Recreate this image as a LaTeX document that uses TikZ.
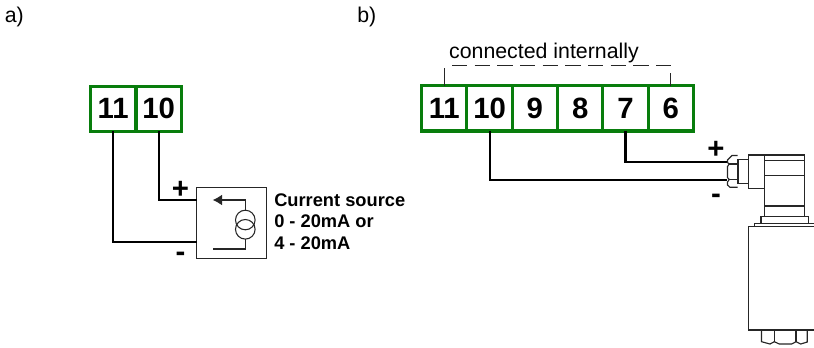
\documentclass[tikz,border=0pt]{standalone}
\usepackage{fontspec}
\setmainfont{Liberation Sans}
\usetikzlibrary{arrows.meta}
\tikzset{
  termcell/.style={draw=termgreen,line width=2.3pt,fill=white,minimum width=34.1pt,minimum height=34pt,inner sep=0pt,outer sep=0pt,font=\fontsize{22}{22}\selectfont\bfseries},
  wire/.style={draw=black,line width=1.6pt,line cap=butt,line join=miter},
  thin line/.style={draw=black!85,line width=0.8pt},
  sensor/.style={draw=black!85,line width=0.85pt,line join=miter},
  note/.style={font=\fontsize{16}{16}\selectfont,inner sep=0pt,anchor=base west},
  sign/.style={font=\fontsize{22}{22}\selectfont\bfseries,inner sep=0pt},
  srcbox/.style={draw=black!85,line width=0.8pt,fill=white,minimum width=52.5pt,minimum height=53.2pt,inner sep=0pt,outer sep=0pt},
  srctext/.style={font=\fontsize{13.7}{16}\selectfont\bfseries,align=left,inner sep=0pt,anchor=north west}
}
\definecolor{termgreen}{RGB}{8,125,12}
\begin{document}
\begin{tikzpicture}[x=0.75pt,y=-0.75pt]
\useasboundingbox (0,0) rectangle (814,347);
\node[note] (la) at (4.5,22) {a)};
\node[note] (lb) at (357,22) {b)};
% a: terminals
\node[termcell] (a11) at (113.25,108.7) {11};
\node[termcell] (a10) at (158.75,108.7) {10};
\node[srcbox] (src) at (231.7,223.2) {};
\coordinate (srcp) at (196.7,199.7);
\coordinate (srcm) at (196.7,242);
\draw[wire] (a10.south) |- (srcp);
\draw[wire] (a11.south) |- (srcm);
\node[sign] (pa) at (180.5,189.5) {+};
\node[sign] (ma) at (180.5,257) {-};
\node[srctext] (srclabel) at (274,193.5) {Current source\\0 - 20mA or\\4 - 20mA};
% source symbol
\node[draw=black!85,line width=0.8pt,circle,minimum size=14.7pt,inner sep=0pt,outer sep=0pt] (c1) at (245.3,220) {};
\node[draw=black!85,line width=0.8pt,circle,minimum size=14.7pt,inner sep=0pt,outer sep=0pt] (c2) at (245.3,229.3) {};
\coordinate (tip) at (212.7,200);
\coordinate (ret) at (212.7,249);
\draw[thin line,-{Latex[length=7pt,width=8pt]}] (c1.north) |- (tip);
\draw[thin line] (c2.south) |- (ret);
% b: terminals
\node[termcell] (b11) at (444.3,108.3) {11};
\node[termcell] (b10) at (489.6,108.3) {10};
\node[termcell] (b9) at (534.9,108.3) {9};
\node[termcell] (b8) at (580.2,108.3) {8};
\node[termcell] (b7) at (625.5,108.3) {7};
\node[termcell] (b6) at (670.8,108.3) {6};
\node[note,anchor=base] (ci) at (544,58) {connected internally};
\coordinate (dl) at (444.3,67.5);
\coordinate (dr) at (670.8,73);
\coordinate (dstart) at (452,65.7);
\coordinate (dend) at (671,65.7);
\draw[thin line] (b11.north) -- (dl);
\draw[thin line] (b6.north) -- (dr);
\draw[thin line,dash pattern=on 11.4pt off 5.6pt] (dstart) -- (dend);
\coordinate (sp) at (727,161.7);
\coordinate (sm) at (727,180);
\draw[wire] (b7.south) |- (sp);
\draw[wire] (b10.south) |- (sm);
\node[sign] (pb) at (716,149.5) {+};
\node[sign] (mb) at (716,199) {-};
% sensor
\draw[sensor] (737.7,155.5) -- (732,155.5) -- (727.5,160) -- (727.5,162.5) -- (729.2,164) -- (727.5,166.5)
  -- (727.5,177.5) -- (729.2,179.5) -- (727.5,182) -- (727.5,185) -- (730,187.3) -- (737.7,187.3);
\draw[sensor] (729.2,164) -- (737.7,164) (729.2,179.5) -- (737.7,179.5);
\draw[sensor,line width=1.2pt] (748.3,159.3) -- (737.7,159.3) -- (737.7,183.3) -- (748.3,183.3);
\draw[sensor] (764.7,155) -- (748.3,155) -- (748.3,188.3) -- (764.7,188.3);
\draw[sensor] (764.7,155) rectangle (804.7,216.7);
\draw[sensor] (764.7,160.3) -- (804.7,160.3) (764.7,175.7) -- (804.7,175.7) (764.7,206) -- (804.7,206);
\draw[sensor] (761,223.3) -- (761,216.7) -- (808.7,216.7) -- (808.7,223.3);
\draw[sensor] (754.5,226.3) -- (754.5,223.3) -- (814,223.3);
\draw[sensor] (814,226.3) -- (748.3,226.3) -- (748.3,330) -- (814,330);
\draw[sensor] (761.5,330) -- (761.5,341.7) -- (770,344) -- (774.3,341.7) -- (779.3,344) -- (791.7,344) -- (796,341.7) -- (800.7,344) -- (807.3,342) -- (807.3,330);
\draw[sensor] (774.3,330) -- (774.3,341.7) (796,330) -- (796,341.7);
\end{tikzpicture}
\end{document}
